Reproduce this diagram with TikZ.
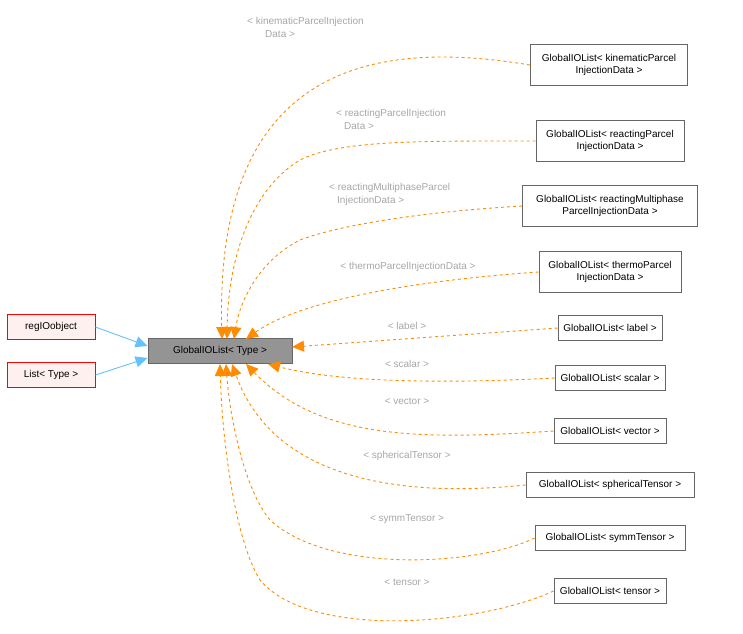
\documentclass[tikz,border=0pt]{standalone}
\usepackage{fontspec}
\setmainfont{Liberation Sans}
\usetikzlibrary{arrows.meta}
\begin{document}
\begin{tikzpicture}[x=1pt,y=-1pt,
 box/.style={draw=black!60,line width=0.9pt,fill=white,align=center,font=\fontsize{10}{12}\selectfont,inner sep=3pt,minimum height=25pt},
 tall/.style={box,minimum height=41pt},
 red/.style={box,draw=red,fill=red!6},
 edge/.style={draw=orange!90!yellow,line width=0.9pt,dashed,-{Triangle[length=12pt,width=11pt]}},
 inh/.style={draw=blue!40!cyan!60,line width=0.9pt,-{Triangle[length=12pt,width=11pt]}},
 lab/.style={text=black!35,font=\fontsize{10}{13}\selectfont,align=left,inner sep=0pt}]
\useasboundingbox (0,0) rectangle (743,633);
\node[red,minimum width=88pt] (r) at (51,327) {regIOobject};
\node[red,minimum width=88pt] (l) at (51,375) {List< Type >};
\node[box,fill=black!42,minimum width=144pt] (g) at (220,351) {GlobalIOList< Type >};
\node[tall,minimum width=157pt] (n1) at (609,65) {GlobalIOList< kinematicParcel\\InjectionData >};
\node[tall,minimum width=148pt] (n2) at (610,141) {GlobalIOList< reactingParcel\\InjectionData >};
\node[tall,minimum width=175pt] (n3) at (610,206) {GlobalIOList< reactingMultiphase\\ParcelInjectionData >};
\node[tall,minimum width=142pt] (n4) at (610,272) {GlobalIOList< thermoParcel\\InjectionData >};
\node[box,minimum width=104pt] (n5) at (610,328) {GlobalIOList< label >};
\node[box,minimum width=110pt] (n6) at (610,378) {GlobalIOList< scalar >};
\node[box,minimum width=112pt] (n7) at (610,431) {GlobalIOList< vector >};
\node[box,minimum width=168pt] (n8) at (610,485) {GlobalIOList< sphericalTensor >};
\node[box,minimum width=150pt] (n9) at (610,538) {GlobalIOList< symmTensor >};
\node[box,minimum width=112pt] (n10) at (610,591) {GlobalIOList< tensor >};
\draw[inh] (r.east) -- (g.west |- 0,346);
\draw[inh] (l.east) -- (g.west |- 0,358);
\coordinate (e1) at (222,339);\coordinate (e2) at (227,339);\coordinate (e3) at (234,339);\coordinate (e4) at (246,339);
\coordinate (e5) at (292,347);\coordinate (e6) at (268,364);\coordinate (e7) at (246,364);\coordinate (e8) at (232,364);
\coordinate (e9) at (226,364);\coordinate (e10) at (220,364);
\draw[edge] (n1.west) .. controls (380,40) and (215,60) .. (e1);
\draw[edge] (n2.west) .. controls (420,141) and (340,140) .. (300,160) .. controls (250,190) and (228,260) .. (e2);
\draw[edge] (n3.west) .. controls (420,212) and (340,225) .. (300,240) .. controls (260,260) and (240,300) .. (e3);
\draw[edge] (n4.west) .. controls (420,280) and (300,300) .. (e4);
\draw[edge] (n5.west) -- (e5);
\draw[edge] (n6.west) .. controls (420,385) and (330,380) .. (e6);
\draw[edge] (n7.west) .. controls (420,440) and (320,440) .. (e7);
\draw[edge] (n8.west) .. controls (380,500) and (270,470) .. (e8);
\draw[edge] (n9.west) .. controls (480,565) and (330,575) .. (270,520) .. controls (245,490) and (230,420) .. (e9);
\draw[edge] (n10.west) .. controls (480,625) and (310,640) .. (260,580) .. controls (235,540) and (222,440) .. (e10);
\node[lab,anchor=west] (t1) at (247,27) {< kinematicParcelInjection\\\hspace*{18pt}Data >};
\node[lab,anchor=west] (t2) at (336,119) {< reactingParcelInjection\\\hspace*{8pt}Data >};
\node[lab,anchor=west] (t3) at (329,194) {< reactingMultiphaseParcel\\\hspace*{8pt}InjectionData >};
\node[lab] (t4) at (408,267) {< thermoParcelInjectionData >};
\node[lab] (t5) at (407,326) {< label >};
\node[lab] (t6) at (407,364) {< scalar >};
\node[lab] (t7) at (407,401) {< vector >};
\node[lab] (t8) at (407,456) {< sphericalTensor >};
\node[lab] (t9) at (407,519) {< symmTensor >};
\node[lab] (t10) at (407,582) {< tensor >};
\end{tikzpicture}
\end{document}
